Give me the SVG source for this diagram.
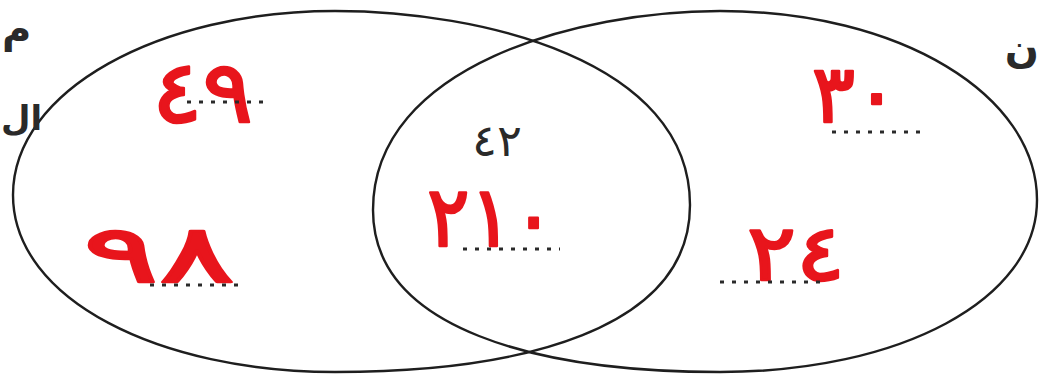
<svg xmlns="http://www.w3.org/2000/svg" width="1040" height="375" viewBox="0 0 1040 375">
<style>
.set{fill:none;stroke:#1e1e1e;stroke-width:2.4}
.dots{stroke:#2a2a2a;stroke-width:3;stroke-dasharray:4 8;fill:none}
.red{font-family:"DejaVu Sans",sans-serif;font-weight:normal;fill:#e8151c;stroke:#e8151c;stroke-width:2.5;stroke-linejoin:round}
.blk{font-family:"DejaVu Sans",sans-serif;fill:#2a2a2a}
</style>
<rect width="1040" height="375" fill="#ffffff"/>
<g id="set-left">
<path class="set" d="M 13,195 C 13,90 160,11 335,11 C 480,11 690,60 690,205 C 690,330 520,372 335,372 C 160,372 13,300 13,195 Z"/>
</g>
<g id="set-right">
<path class="set" d="M 720,11 C 900,11 1037,95 1037,200 C 1037,300 900,372 720,372 C 540,372 373,330 373,210 C 373,65 580,11 720,11 Z"/>
</g>
<g id="edge-labels">
<text class="blk" x="2" y="42" font-size="40" font-weight="bold">م</text>
<text class="blk" x="1" y="130" font-size="34" font-weight="bold">ال</text>
<text class="blk" x="1039" y="62" font-size="40" font-weight="bold" text-anchor="end">ن</text>
</g>
<g id="region-left-top">
<text class="red" x="152" y="122" font-size="86" textLength="101" lengthAdjust="spacingAndGlyphs">٤٩</text>
<line class="dots" x1="187" y1="102" x2="267" y2="102"/>
</g>
<g id="region-left-bottom">
<text class="red" x="83" y="282" font-size="80" textLength="152" lengthAdjust="spacingAndGlyphs">٩٨</text>
<line class="dots" x1="150" y1="285" x2="243" y2="285"/>
</g>
<g id="region-middle">
<text class="blk" x="472" y="156" font-size="44" textLength="50" lengthAdjust="spacingAndGlyphs">٤٢</text>
<text class="red" x="427" y="246" font-size="84" textLength="128" lengthAdjust="spacingAndGlyphs">٢١٠</text>
<line class="dots" x1="463" y1="249" x2="560" y2="249"/>
</g>
<g id="region-right-top">
<text class="red" x="812" y="122" font-size="80" textLength="86" lengthAdjust="spacingAndGlyphs">٣٠</text>
<line class="dots" x1="832" y1="132" x2="927" y2="132"/>
</g>
<g id="region-right-bottom">
<text class="red" x="747" y="280" font-size="78" textLength="98" lengthAdjust="spacingAndGlyphs">٢٤</text>
<line class="dots" x1="720" y1="282" x2="820" y2="282"/>
</g>
</svg>
